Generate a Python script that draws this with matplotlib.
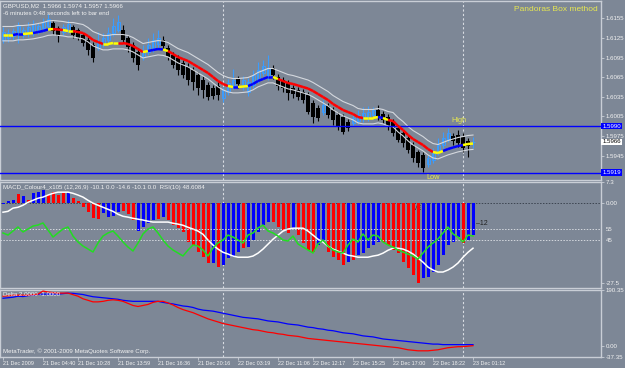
import matplotlib
matplotlib.use('Agg')
import matplotlib.pyplot as plt

W, H = 625, 368
BG = '#7d8796'
LINE = '#c9ced6'
TXT = '#f2f2f2'
plt.rcParams['font.family'] = ['Liberation Sans Narrow', 'Liberation Sans', 'DejaVu Sans']
plt.rcParams['font.size'] = 4.4

# ---- GBPUSD M2 candles ----
opens = [1.6122, 1.6125, 1.6128, 1.6131, 1.6130, 1.6132, 1.6136, 1.6137, 1.6140, 1.6143,
         1.6148, 1.6140, 1.6134, 1.6137, 1.6142, 1.6137, 1.6130, 1.6122, 1.6114, 1.6110,
         1.6116, 1.6122, 1.6132, 1.6137, 1.6137, 1.6125, 1.6114, 1.6103, 1.6096, 1.6103,
         1.6110, 1.6116, 1.6122, 1.6110, 1.6099, 1.6094, 1.6087, 1.6081, 1.6076, 1.6068,
         1.6061, 1.6053, 1.6048, 1.6051, 1.6033, 1.6042, 1.6051, 1.6062, 1.6053, 1.6042,
         1.6053, 1.6061, 1.6071, 1.6065, 1.6079, 1.6065, 1.6061, 1.6056, 1.6048, 1.6045,
         1.6042, 1.6038, 1.6025, 1.6018, 1.6012, 1.6021, 1.6015, 1.6007, 1.6004, 1.5996,
         1.5995, 1.5998, 1.6002, 1.6004, 1.6007, 1.6015, 1.6009, 1.6004, 1.5996, 1.5987,
         1.5980, 1.5972, 1.5961, 1.5950, 1.5946, 1.5932, 1.5938, 1.5950, 1.5961, 1.5970,
         1.5975, 1.5977, 1.5973, 1.5967, 1.5966]
highs = [1.6142, 1.6139, 1.6140, 1.6149, 1.6142, 1.6149, 1.6152, 1.6148, 1.6155, 1.6162,
         1.6151, 1.6143, 1.6146, 1.6152, 1.6145, 1.6140, 1.6132, 1.6126, 1.6119, 1.6134,
         1.6132, 1.6142, 1.6155, 1.6160, 1.6145, 1.6130, 1.6119, 1.6110, 1.6114, 1.6125,
         1.6132, 1.6137, 1.6128, 1.6114, 1.6103, 1.6099, 1.6091, 1.6087, 1.6081, 1.6073,
         1.6067, 1.6058, 1.6053, 1.6058, 1.6050, 1.6062, 1.6077, 1.6067, 1.6067, 1.6064,
         1.6076, 1.6088, 1.6091, 1.6099, 1.6084, 1.6070, 1.6065, 1.6061, 1.6053, 1.6050,
         1.6047, 1.6042, 1.6030, 1.6022, 1.6030, 1.6025, 1.6019, 1.6012, 1.6009, 1.6001,
         1.6007, 1.6015, 1.6019, 1.6021, 1.6019, 1.6022, 1.6013, 1.6009, 1.6001, 1.5992,
         1.5984, 1.5977, 1.5966, 1.5954, 1.5950, 1.5946, 1.5957, 1.5972, 1.5981, 1.5987,
         1.5980, 1.5984, 1.5980, 1.5972, 1.5974]
lows = [1.6117, 1.6119, 1.6122, 1.6117, 1.6125, 1.6126, 1.6128, 1.6131, 1.6134, 1.6137,
        1.6131, 1.6119, 1.6130, 1.6132, 1.6125, 1.6122, 1.6113, 1.6099, 1.6088, 1.6107,
        1.6111, 1.6117, 1.6128, 1.6134, 1.6117, 1.6103, 1.6088, 1.6076, 1.6091, 1.6099,
        1.6103, 1.6110, 1.6107, 1.6091, 1.6079, 1.6068, 1.6064, 1.6053, 1.6045, 1.6038,
        1.6033, 1.6030, 1.6032, 1.6030, 1.6027, 1.6038, 1.6047, 1.6048, 1.6045, 1.6036,
        1.6048, 1.6056, 1.6067, 1.6061, 1.6062, 1.6045, 1.6042, 1.6030, 1.6033, 1.6030,
        1.6025, 1.6009, 1.5995, 1.5998, 1.6007, 1.6002, 1.5992, 1.5984, 1.5978, 1.5983,
        1.5990, 1.5993, 1.5996, 1.5998, 1.6001, 1.5999, 1.5995, 1.5984, 1.5975, 1.5966,
        1.5958, 1.5949, 1.5935, 1.5927, 1.5920, 1.5927, 1.5934, 1.5946, 1.5957, 1.5966,
        1.5961, 1.5958, 1.5950, 1.5943, 1.5957]
closes = [1.6134, 1.6132, 1.6136, 1.6143, 1.6137, 1.6142, 1.6146, 1.6143, 1.6149, 1.6154,
          1.6136, 1.6128, 1.6142, 1.6146, 1.6130, 1.6125, 1.6117, 1.6107, 1.6094, 1.6119,
          1.6125, 1.6132, 1.6143, 1.6149, 1.6122, 1.6111, 1.6094, 1.6084, 1.6107, 1.6114,
          1.6122, 1.6125, 1.6113, 1.6096, 1.6084, 1.6076, 1.6068, 1.6061, 1.6058, 1.6048,
          1.6045, 1.6035, 1.6036, 1.6038, 1.6045, 1.6056, 1.6061, 1.6055, 1.6061, 1.6058,
          1.6068, 1.6076, 1.6082, 1.6079, 1.6068, 1.6051, 1.6048, 1.6041, 1.6039, 1.6035,
          1.6030, 1.6012, 1.6004, 1.6002, 1.6022, 1.6007, 1.5999, 1.5989, 1.5981, 1.5987,
          1.6002, 1.6007, 1.6010, 1.6012, 1.6015, 1.6004, 1.5999, 1.5989, 1.5980, 1.5969,
          1.5964, 1.5954, 1.5941, 1.5934, 1.5926, 1.5941, 1.5949, 1.5961, 1.5972, 1.5980,
          1.5967, 1.5964, 1.5957, 1.5960, 1.5966]

# moving average + its colour state (y = flat, b = up, r = down)
ma = [1.61295, 1.61295, 1.61295, 1.61310, 1.61310, 1.61317, 1.61325, 1.61340, 1.61356, 1.61379,
      1.61386, 1.61379, 1.61371, 1.61356, 1.61356, 1.61340, 1.61325, 1.61279, 1.61218, 1.61187,
      1.61157, 1.61157, 1.61172, 1.61172, 1.61172, 1.61157, 1.61126, 1.61080, 1.61034, 1.61050,
      1.61065, 1.61080, 1.61073, 1.61050, 1.61004, 1.60958, 1.60927, 1.60897, 1.60851, 1.60805,
      1.60759, 1.60713, 1.60652, 1.60591, 1.60545, 1.60514, 1.60499, 1.60499, 1.60506, 1.60514,
      1.60545, 1.60591, 1.60621, 1.60652, 1.60652, 1.60621, 1.60591, 1.60560, 1.60545, 1.60522,
      1.60499, 1.60476, 1.60438, 1.60392, 1.60346, 1.60300, 1.60239, 1.60193, 1.60147, 1.60116,
      1.60086, 1.60040, 1.60025, 1.60025, 1.60025, 1.60040, 1.60025, 1.59994, 1.59979, 1.59902,
      1.59841, 1.59765, 1.59703, 1.59657, 1.59611, 1.59550, 1.59504, 1.59489, 1.59520, 1.59550,
      1.59573, 1.59596, 1.59611, 1.59627, 1.59634]
ma_state = list("yy bb yy bbb y rr yy rrrrrr yyy rrrrr y bbb y rrrrrrrrrrrr y b yy bbbbb y "
                "rrrrrrrrrrrrrrrrr yyy b y rrrrrrrrr yy bbbb yy b".replace(' ', ''))
env_up = 0.0013
env_dn = 0.0009

high_level = 1.5990
low_level = 1.5919
price_ticks = [1.6155, 1.6125, 1.6095, 1.6065, 1.6035, 1.6005, 1.5975, 1.5945]

# ---- MACD colour histogram, signal, RSI(10) ----
macd = [-0.3, 0.7, 1.0, 3.1, 2.4, 1.0, 3.4, 3.8, 4.5, 2.8,
        3.8, 2.8, 3.4, 3.8, 1.7, 0.7, -1.4, -3.1, -5.2, -5.5,
        -3.4, -4.8, -4.5, -3.1, -2.8, -3.8, -5.8, -9.6, -8.3, -6.9,
        -5.8, -5.5, -4.8, -5.8, -7.6, -8.6, -10.0, -13.4, -14.4, -16.9,
        -18.6, -20.6, -20.6, -22.0, -21.3, -18.9, -18.6, -16.9, -15.5, -15.1,
        -12.7, -10.0, -7.6, -6.5, -6.5, -8.3, -9.3, -10.3, -8.6, -11.0,
        -13.8, -16.2, -16.9, -14.4, -13.4, -16.9, -18.6, -19.6, -21.3, -20.3,
        -19.6, -17.9, -17.2, -15.5, -14.4, -13.4, -13.4, -14.4, -16.2, -17.2,
        -20.3, -22.4, -24.8, -27.5, -25.8, -25.5, -23.7, -21.3, -17.9, -14.4,
        -13.4, -11.7, -13.8, -12.7, -11.0]
macd_state = list("bbbrbrbbbr rrrbrrrrrr bbbbrrrbbb brbrrrrrrr rrbrbbbbrb "
                  "bbbbrrrrbr rrrbbrrrrb rbbbbbrrrr rrrrbbbbbb bbrbb".replace(' ', ''))
signal = [-3.1, -2.8, -1.7, -1.4, -0.7, 0.3, 1.0, 1.7, 2.1, 2.8,
          3.4, 3.8, 3.8, 3.8, 3.4, 2.8, 2.1, 1.0, 0.0, -0.7,
          -1.4, -2.1, -2.8, -3.8, -4.5, -4.8, -5.2, -5.5, -5.8, -6.2,
          -6.5, -6.5, -6.5, -6.5, -6.9, -7.2, -7.6, -8.3, -8.9, -9.6,
          -10.7, -12.7, -14.4, -15.8, -16.9, -17.5, -18.2, -18.6, -18.6, -18.6,
          -18.2, -17.2, -15.8, -14.1, -12.4, -11.0, -9.6, -8.9, -8.6, -8.6,
          -8.6, -9.6, -11.0, -12.4, -13.4, -14.8, -15.8, -16.5, -17.2, -17.9,
          -18.2, -18.6, -18.6, -18.6, -18.2, -17.9, -17.2, -16.2, -15.5, -15.5,
          -15.8, -16.5, -17.5, -18.9, -20.3, -22.0, -23.0, -23.7, -23.7, -23.0,
          -22.0, -20.6, -18.6, -16.9, -15.5]
rsi = [51.4, 49.5, 53.2, 56.8, 52.3, 55.0, 57.7, 58.6, 60.5, 54.1,
       47.7, 51.4, 55.0, 56.8, 48.6, 43.2, 39.5, 36.8, 34.1, 42.3,
       48.6, 51.4, 53.2, 48.6, 43.2, 38.6, 35.0, 42.3, 50.5, 55.0,
       56.8, 51.4, 45.0, 39.5, 35.9, 33.2, 30.5, 35.9, 40.5, 39.5,
       35.9, 30.5, 37.7, 42.3, 45.0, 49.5, 47.7, 45.0, 42.3, 49.5,
       51.4, 55.9, 58.6, 53.2, 51.4, 48.6, 45.0, 44.1, 48.6, 41.4,
       38.6, 35.9, 33.2, 41.4, 45.0, 39.5, 35.9, 34.1, 33.2, 40.5,
       45.9, 43.2, 50.5, 45.0, 49.5, 48.6, 43.2, 40.5, 38.6, 35.9,
       34.1, 32.3, 30.5, 27.7, 33.2, 38.6, 42.3, 45.9, 51.4, 56.8,
       50.5, 47.7, 43.2, 49.5, 48.6]

# ---- Delta indicator ----
delta_blue = [162.3, 164.0, 165.8, 169.3, 168.0, 171.0, 172.8, 175.5, 176.3, 176.3,
              176.3, 176.3, 178.0, 179.8, 179.0, 177.0, 175.0, 171.0, 167.5, 165.8,
              164.0, 162.3, 160.5, 158.8, 155.3, 153.5, 151.8, 151.8, 151.8, 151.8,
              151.8, 151.8, 148.3, 145.5, 143.0, 139.5, 136.0, 134.3, 131.0, 125.5,
              122.0, 120.3, 118.5, 115.0, 111.5, 108.0, 104.5, 101.0, 97.5, 95.8,
              94.0, 92.3, 88.8, 85.3, 83.5, 81.8, 78.3, 74.8, 73.0, 71.3,
              67.7, 64.2, 62.5, 59.0, 57.2, 53.7, 52.0, 48.5, 45.0, 43.2,
              41.5, 38.0, 34.5, 32.7, 31.0, 27.5, 24.0, 22.2, 20.5, 18.7,
              17.0, 15.2, 13.5, 11.7, 10.0, 8.2, 6.5, 6.5, 4.7, 4.7,
              4.7, 4.7, 4.7, 4.7, 4.7]
delta_red = [169.3, 171.0, 172.8, 172.8, 172.8, 172.8, 174.5, 176.3, 186.8, 183.3,
             181.5, 179.8, 179.8, 179.8, 174.5, 169.3, 160.5, 155.3, 150.0, 150.0,
             151.8, 155.3, 157.0, 155.3, 151.8, 144.8, 137.8, 134.3, 137.8, 141.3,
             148.3, 151.8, 151.8, 146.5, 139.5, 130.8, 123.8, 118.5, 113.3, 106.3,
             99.3, 92.3, 87.0, 81.8, 76.5, 73.0, 69.5, 66.0, 62.5, 59.0,
             55.5, 53.7, 50.2, 46.7, 45.0, 41.5, 39.7, 36.2, 34.5, 32.7,
             29.2, 25.7, 24.0, 22.2, 20.5, 18.7, 17.0, 15.2, 13.5, 11.7,
             10.0, 8.2, 6.5, 4.7, 3.0, 1.2, -0.6, -2.3, -4.0, -5.8,
             -9.3, -12.8, -14.5, -16.3, -16.3, -16.3, -14.5, -12.8, -9.3, -5.8,
             -4.0, -2.3, -2.3, -0.6, 1.2]

time_pos = [0, 8, 15, 23, 31, 39, 47, 55, 62, 70, 78, 86, 94]
time_labels = ['21 Dec 2009', '21 Dec 04:40', '21 Dec 10:28', '21 Dec 13:59', '21 Dec 16:36',
               '21 Dec 20:16', '22 Dec 03:19', '22 Dec 11:06', '22 Dec 12:17', '22 Dec 15:25',
               '22 Dec 17:00', '22 Dec 18:22', '23 Dec 01:12']
day_breaks = [44, 92]

COL = {'r': '#ff0000', 'b': '#0000ff', 'y': '#ffff00'}


def rect(x0, y0, x1, y1):
    # pixel box -> figure fraction
    return [x0 / W, 1 - y1 / H, (x1 - x0) / W, (y1 - y0) / H]


def style(ax, ylim):
    ax.set_facecolor(BG)
    ax.set_xlim(-0.6, 119.6)
    ax.set_ylim(*ylim)
    for s in ax.spines.values():
        s.set_color(LINE)
        s.set_linewidth(1)
    ax.tick_params(axis='x', bottom=False, labelbottom=False)
    ax.yaxis.tick_right()
    ax.tick_params(axis='y', direction='out', length=2.5, width=0.6, color=LINE,
                   labelcolor=TXT, labelsize=4.4, pad=1)
    for d in day_breaks:
        ax.axvline(d, color='#d8dce2', lw=0.8, ls=(0, (2, 2)), zorder=1)


fig = plt.figure(figsize=(W / 100, H / 100), dpi=100, facecolor=BG)
idx = list(range(len(closes)))

# ---------------- main price panel ----------------
ax1 = fig.add_axes(rect(0, 1, 601, 180))
style(ax1, (1.59076, 1.61815))
ax1.set_yticks(price_ticks)
ax1.set_yticklabels(['%.4f' % p for p in price_ticks])

for i in idx:
    o, h, l, c = opens[i], highs[i], lows[i], closes[i]
    if c >= o:
        ax1.vlines(i, l, h, color='#3a9cff', lw=0.8, zorder=2)
        ax1.bar(i, max(c - o, 0.00004), bottom=o, width=0.6, fill=False,
                edgecolor='#3a9cff', lw=0.7, zorder=2)
    else:
        ax1.vlines(i, l, h, color='black', lw=0.8, zorder=2)
        ax1.bar(i, o - c, bottom=c, width=0.7, color='black', zorder=2)

ax1.plot(idx, [m + env_up for m in ma], color='#d4d8de', lw=0.8, zorder=3)
ax1.plot(idx, [m - env_dn for m in ma], color='#d4d8de', lw=0.8, zorder=3)
for i in idx[:-1]:
    ax1.plot([i, i + 1], [ma[i], ma[i + 1]], color=COL[ma_state[i]], lw=1.8,
             solid_capstyle='butt', zorder=4)

ax1.axhline(high_level, color='#0000ff', lw=1, zorder=3)
ax1.axhline(low_level, color='#0000ff', lw=1, zorder=3)
ax1.text(89.6, 1.5998, 'High', color='#e8e850', fontsize=5.3, va='center', zorder=5)
ax1.text(84.6, 1.5912, 'Low', color='#e8e850', fontsize=5.3, va='center', zorder=5)

tr1 = ax1.get_yaxis_transform()
ax1.text(1.002, high_level, '%.4f' % high_level, transform=tr1, color='white', va='center',
         bbox=dict(boxstyle='square,pad=0.12', fc='#0000ff', ec='none'))
ax1.text(1.002, low_level, '%.4f' % low_level, transform=tr1, color='white', va='center',
         bbox=dict(boxstyle='square,pad=0.12', fc='#0000ff', ec='none'))
ax1.text(1.002, closes[-1], '%.4f' % closes[-1], transform=tr1, color='black', va='center',
         bbox=dict(boxstyle='square,pad=0.12', fc='white', ec='none'))

ax1.text(0.005, 0.975, 'GBPUSD,M2  %.4f %.4f %.4f %.4f' % (opens[-1], highs[-1], lows[-1], closes[-1]),
         transform=ax1.transAxes, color=TXT, va='center')
ax1.text(0.005, 0.93, '-6 minutes 0:48 seconds left to bar end',
         transform=ax1.transAxes, color=TXT, va='center')
ax1.text(0.995, 0.955, 'Pandoras Box method', transform=ax1.transAxes, color='#e8e850',
         fontsize=6.0, ha='right', va='center')

# ---------------- MACD + RSI panel ----------------
ax2 = fig.add_axes(rect(0, 182, 601, 288))
style(ax2, (-29.2, 7.3))
ax2.axhline(0, color='#3c4450', lw=0.7, ls=(0, (1.5, 1.5)), zorder=1)
ax2.bar(idx, macd, width=0.6, color=[COL[s] for s in macd_state], zorder=2)
ax2.plot(idx, signal, color='white', lw=1.1, zorder=3)
ax2.text(82, -1.7, 'VE', color='#303030', fontsize=5, va='center', zorder=1.5)
ax2.text(94.6, -6.9, '\u201312', color='#202020', fontsize=5, va='center', zorder=5)
ax2.text(0.005, 0.95, 'MACD_Colour4_x105 (12,26,9) -10.1 0.0 -14.6 -10.1 0.0  RSI(10) 48.6084',
         transform=ax2.transAxes, color=TXT, va='center')

ax2r = ax2.twinx()
ax2r.set_xlim(-0.6, 119.6)
ax2r.set_ylim(1.4, 97.7)
for s in ax2r.spines.values():
    s.set_visible(False)
ax2r.set_yticks([55, 45])
ax2r.set_yticklabels(['55', '45'])
ax2r.tick_params(axis='y', direction='out', length=0, labelcolor=TXT, labelsize=4.4, pad=3.5)
ax2r.axhline(55, color='#d4d8de', lw=0.7, ls=(0, (1.5, 1.5)))
ax2r.axhline(45, color='#d4d8de', lw=0.7, ls=(0, (1.5, 1.5)))
ax2r.plot(idx, rsi, color='#22dd22', lw=1.1)

# twinx moved the MACD scale to the left, put it back on the right
ax2.yaxis.tick_right()
ax2.set_yticks([7.3, 0, -27.5])
ax2.set_yticklabels(['7.3', '0.00', '-27.5'])
ax2.tick_params(axis='y', left=False, labelleft=False, right=True, labelright=True,
                direction='out', length=2.5, width=0.6, color=LINE, labelcolor=TXT,
                labelsize=4.4, pad=1)

# ---------------- Delta panel ----------------
ax3 = fig.add_axes(rect(0, 290, 601, 357))
style(ax3, (-37.35, 190.35))
ax3.set_yticks([190.35, 0, -37.35])
ax3.set_yticklabels(['190.35', '0.00', '-37.35'])
ax3.plot(idx, delta_blue, color='#0000ff', lw=0.9, zorder=3)
ax3.plot(idx, delta_red, color='#ff0000', lw=0.9, zorder=3)
ax3.text(0.005, 0.93, 'Delta 2.0000 -1.0000', transform=ax3.transAxes, color=TXT, va='center')
ax3.text(0.005, 0.09, 'MetaTrader, \u00a9 2001-2009 MetaQuotes Software Corp.',
         transform=ax3.transAxes, color=TXT, va='center')

ax3.set_xticks(time_pos)
ax3.set_xticklabels(time_labels, ha='left')
ax3.tick_params(axis='x', bottom=True, labelbottom=True, direction='out', length=2,
                width=0.6, color=LINE, labelcolor=TXT, labelsize=3.9, pad=0.8)

fig.savefig('out.png', dpi=100, facecolor=BG)
